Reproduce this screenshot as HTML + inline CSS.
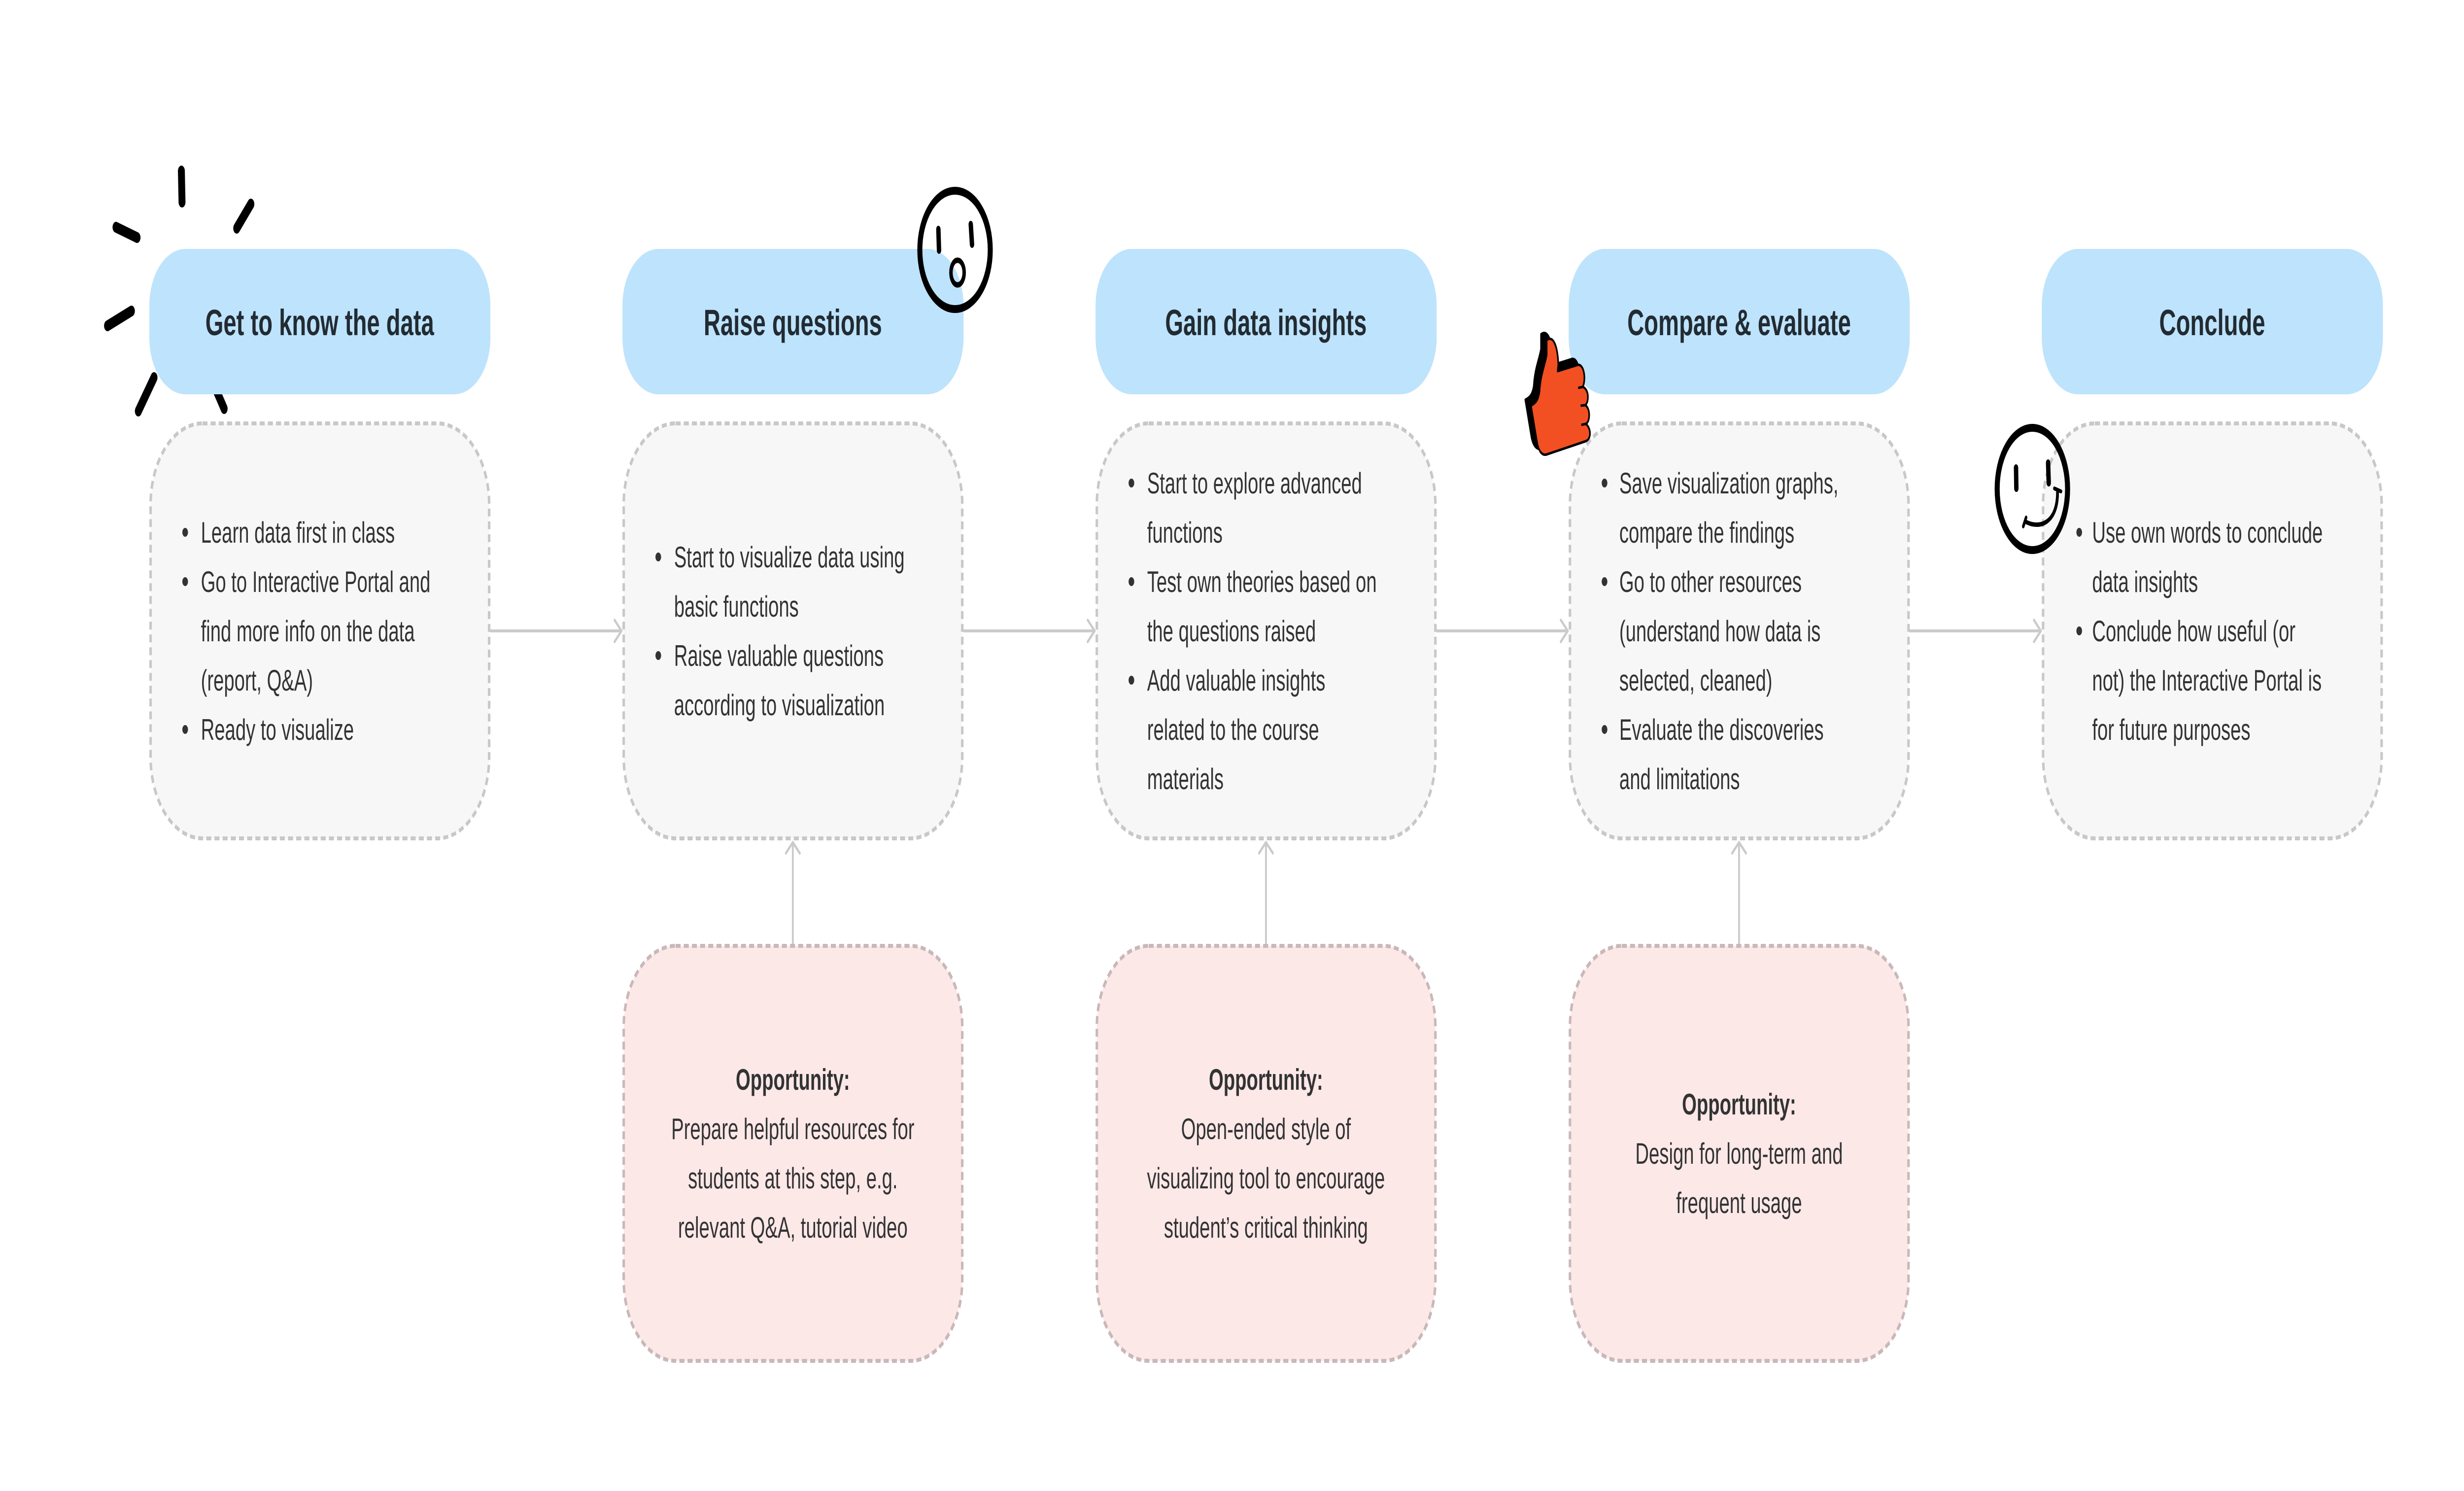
<!DOCTYPE html>
<html><head><meta charset="utf-8"><style>
html,body{margin:0;padding:0;background:#fff;width:100%;height:100%;overflow:hidden;}
svg{display:block;width:100vw;height:100vh;}
.h{font-family:"Liberation Sans",sans-serif;font-weight:bold;font-size:74px;fill:#222b33;text-anchor:middle;}
.t{font-family:"Liberation Sans",sans-serif;font-size:60px;fill:#333;}
.c{font-family:"Liberation Sans",sans-serif;font-size:60px;fill:#333;text-anchor:middle;}
.b{font-weight:bold;}
</style></head><body>
<svg viewBox="0 0 7838 3025" preserveAspectRatio="none" xmlns="http://www.w3.org/2000/svg">
<rect width="7838" height="3025" fill="#fff"/>
<g stroke="#000" stroke-width="22" stroke-linecap="round" fill="none">
<line x1="577" y1="347" x2="579" y2="410"/>
<line x1="753" y1="463" x2="798" y2="414"/>
<line x1="369" y1="461" x2="436" y2="482"/>
<line x1="342" y1="661" x2="418" y2="631"/>
<line x1="440" y1="834" x2="490" y2="766"/>
<line x1="686" y1="789" x2="713" y2="829"/>
</g>
<g stroke="#CCCACA" stroke-width="6" fill="none" stroke-linecap="round" stroke-linejoin="round">
<line x1="1560" y1="1280" x2="1977" y2="1280"/><polyline points="1955,1258 1977,1280 1955,1302"/>
<line x1="3065" y1="1280" x2="3482" y2="1280"/><polyline points="3460,1258 3482,1280 3460,1302"/>
<line x1="4570" y1="1280" x2="4987" y2="1280"/><polyline points="4965,1258 4987,1280 4965,1302"/>
<line x1="6075" y1="1280" x2="6492" y2="1280"/><polyline points="6470,1258 6492,1280 6470,1302"/>
<line x1="2522" y1="1915" x2="2522" y2="1709"/><polyline points="2500,1731 2522,1709 2544,1731"/>
<line x1="4027" y1="1915" x2="4027" y2="1709"/><polyline points="4005,1731 4027,1709 4049,1731"/>
<line x1="5532" y1="1915" x2="5532" y2="1709"/><polyline points="5510,1731 5532,1709 5554,1731"/>
</g>
<g fill="#BEE3FC">
<rect x="475" y="505" width="1085" height="295" rx="115"/>
<rect x="1980" y="505" width="1085" height="295" rx="115"/>
<rect x="3485" y="505" width="1085" height="295" rx="115"/>
<rect x="4990" y="505" width="1085" height="295" rx="115"/>
<rect x="6495" y="505" width="1085" height="295" rx="115"/>
</g>
<text class="h" x="1017" y="680">Get to know the data</text>
<text class="h" x="2522" y="680">Raise questions</text>
<text class="h" x="4027" y="680">Gain data insights</text>
<text class="h" x="5532" y="680">Compare &amp; evaluate</text>
<text class="h" x="7037" y="680">Conclude</text>
<g fill="#F7F7F7" stroke="#C8C8C8" stroke-width="8" stroke-dasharray="16 10">
<rect x="479" y="859" width="1077" height="842" rx="165"/>
<rect x="1984" y="859" width="1077" height="842" rx="165"/>
<rect x="3489" y="859" width="1077" height="842" rx="165"/>
<rect x="4994" y="859" width="1077" height="842" rx="165"/>
<rect x="6499" y="859" width="1077" height="842" rx="165"/>
</g>
<g fill="#FDE8E8" stroke="#C9B8BA" stroke-width="8" stroke-dasharray="16 10">
<rect x="1984" y="1919" width="1077" height="842" rx="165"/>
<rect x="3489" y="1919" width="1077" height="842" rx="165"/>
<rect x="4994" y="1919" width="1077" height="842" rx="165"/>
</g>
<g fill="#333">
<circle cx="589" cy="1080" r="9"/><circle cx="589" cy="1180" r="9"/><circle cx="589" cy="1480" r="9"/>
<circle cx="2094" cy="1130" r="9"/><circle cx="2094" cy="1330" r="9"/>
<circle cx="3599" cy="980" r="9"/><circle cx="3599" cy="1180" r="9"/><circle cx="3599" cy="1380" r="9"/>
<circle cx="5104" cy="980" r="9"/><circle cx="5104" cy="1180" r="9"/><circle cx="5104" cy="1480" r="9"/>
<circle cx="6614" cy="1080" r="9"/><circle cx="6614" cy="1280" r="9"/>
</g>
<g class="t">
<text x="639" y="1101">Learn data first in class</text>
<text x="639" y="1201">Go to Interactive Portal and</text>
<text x="639" y="1301">find more info on the data</text>
<text x="639" y="1401">(report, Q&amp;A)</text>
<text x="639" y="1501">Ready to visualize</text>

<text x="2144" y="1151">Start to visualize data using</text>
<text x="2144" y="1251">basic functions</text>
<text x="2144" y="1351">Raise valuable questions</text>
<text x="2144" y="1451">according to visualization</text>

<text x="3649" y="1001">Start to explore advanced</text>
<text x="3649" y="1101">functions</text>
<text x="3649" y="1201">Test own theories based on</text>
<text x="3649" y="1301">the questions raised</text>
<text x="3649" y="1401">Add valuable insights</text>
<text x="3649" y="1501">related to the course</text>
<text x="3649" y="1601">materials</text>

<text x="5151" y="1001">Save visualization graphs,</text>
<text x="5151" y="1101">compare the findings</text>
<text x="5151" y="1201">Go to other resources</text>
<text x="5151" y="1301">(understand how data is</text>
<text x="5151" y="1401">selected, cleaned)</text>
<text x="5151" y="1501">Evaluate the discoveries</text>
<text x="5151" y="1601">and limitations</text>

<text x="6655" y="1101">Use own words to conclude</text>
<text x="6655" y="1201">data insights</text>
<text x="6655" y="1301">Conclude how useful (or</text>
<text x="6655" y="1401">not) the Interactive Portal is</text>
<text x="6655" y="1501">for future purposes</text>
</g>
<g class="c">
<text class="c b" x="2522" y="2211">Opportunity:</text>
<text x="2522" y="2311">Prepare helpful resources for</text>
<text x="2522" y="2411">students at this step, e.g.</text>
<text x="2522" y="2511">relevant Q&amp;A, tutorial video</text>

<text class="c b" x="4027" y="2211">Opportunity:</text>
<text x="4027" y="2311">Open-ended style of</text>
<text x="4027" y="2411">visualizing tool to encourage</text>
<text x="4027" y="2511">student’s critical thinking</text>

<text class="c b" x="5532" y="2261">Opportunity:</text>
<text x="5532" y="2361">Design for long-term and</text>
<text x="5532" y="2461">frequent usage</text>
</g>
<g stroke="#000" fill="none" stroke-linecap="round">
<ellipse cx="3038" cy="507" rx="112" ry="120" stroke-width="16"/>
<line x1="2985" y1="465" x2="2987" y2="508" stroke-width="14"/>
<line x1="3088" y1="455" x2="3092" y2="496" stroke-width="14"/>
<ellipse cx="3046" cy="553" rx="21" ry="25" stroke-width="11"/>
</g>
<g stroke="#000" stroke-width="5" stroke-linejoin="round">
<path transform="translate(-18,-12)" fill="#000" d="M4920,690 C4940,680 4955,700 4957,740 L4955,753 L5020,740 C5040,740 5045,770 5035,785 C5055,790 5055,815 5043,822 C5060,830 5058,855 5045,860 C5062,870 5062,890 5045,895 L4920,922 C4905,925 4895,915 4890,900 L4870,823 C4885,818 4893,812 4897,795 C4900,760 4915,740 4920,720 Z"/>
<path fill="#F25022" d="M4920,690 C4940,680 4955,700 4957,740 L4955,753 L5020,740 C5040,740 5045,770 5035,785 C5055,790 5055,815 5043,822 C5060,830 5058,855 5045,860 C5062,870 5062,890 5045,895 L4920,922 C4905,925 4895,915 4890,900 L4870,823 C4885,818 4893,812 4897,795 C4900,760 4915,740 4920,720 Z"/>
<path fill="none" d="M5020,787 L5035,785 M5028,823 L5043,822 M5030,862 L5045,860"/>
</g>
<g stroke="#000" fill="none" stroke-linecap="round">
<ellipse cx="6465" cy="992" rx="112" ry="124" stroke-width="16"/>
<line x1="6413" y1="949" x2="6414" y2="991" stroke-width="14"/>
<line x1="6515" y1="939" x2="6517" y2="980" stroke-width="14"/>
<path d="M6442,1058 C6490,1075 6545,1060 6545,999" stroke-width="9"/>
<line x1="6436" y1="1068" x2="6445" y2="1050" stroke-width="8"/>
<line x1="6535" y1="991" x2="6556" y2="997" stroke-width="8"/>
</g>
</svg>
</body></html>
